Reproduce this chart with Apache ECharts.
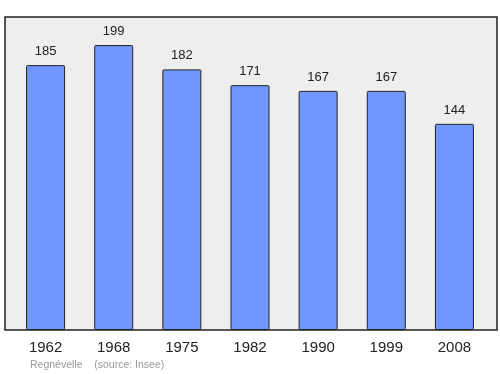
<!DOCTYPE html>
<html><head><meta charset="utf-8">
<script src="https://cdn.jsdelivr.net/npm/echarts@6/dist/echarts.min.js"></script>
<style>html,body{margin:0;padding:0;background:#fff}#c{width:500px;height:374px}</style>
</head><body><div id="c"></div>
<script>
var years = ['1962','1968','1975','1982','1990','1999','2008'];
var population = [185,199,182,171,167,167,144];
var footer = 'Regnévelle    (source: Insee)';

var FONT = "'Liberation Sans', Arial, sans-serif";
var chart = echarts.init(document.getElementById('c'), null, {renderer:'canvas'});
chart.setOption({
  animation:false,
  backgroundColor:'#ffffff',
  grid:[
    {left:5, right:3, top:17, bottom:44, show:true, backgroundColor:'#eeeeee', borderColor:'#222222', borderWidth:1.5},
    {left:11.5, right:11.5, top:15, bottom:44}
  ],
  xAxis:[
    {gridIndex:0, type:'value', show:false, min:0, max:1},
    {gridIndex:1, type:'category', data:years, axisLine:{show:false}, axisTick:{show:false},
     axisLabel:{margin:10, fontSize:15, color:'#222', fontFamily:FONT}}
  ],
  yAxis:[
    {gridIndex:0, type:'value', show:false, min:0, max:1},
    {gridIndex:1, type:'value', min:0, max:220, show:false}
  ],
  series:[{
    type:'bar', xAxisIndex:1, yAxisIndex:1, data:population, barWidth:39,
    itemStyle:{color:'#6f97ff', borderColor:'#222', borderWidth:1, borderRadius:1},
    label:{show:true, position:'top', distance:7, fontSize:13, color:'#222', fontFamily:FONT}
  }],
  graphic:[{type:'text', left:30, top:360, style:{text:footer, fontSize:10.5, fill:'#9a9a9a', fontFamily:FONT}}]
});
</script></body></html>
